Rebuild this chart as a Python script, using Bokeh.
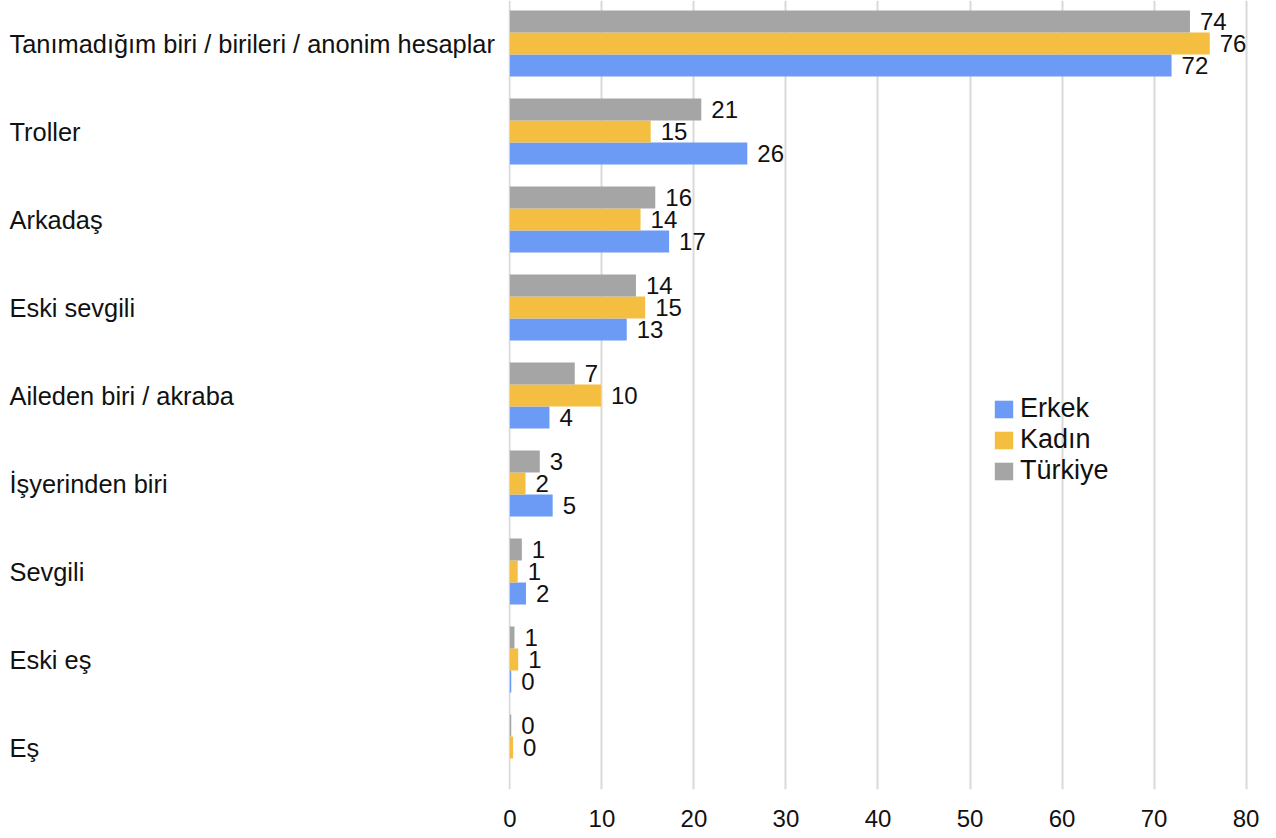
from bokeh.plotting import figure
from bokeh.layouts import row
from bokeh.models import ColumnDataSource, LabelSet, Legend, LegendItem, FixedTicker, Range1d
from bokeh.core.properties import value
from bokeh.embed import file_html
from bokeh.resources import INLINE

categories = ["Tanımadığım biri / birileri / anonim hesaplar", "Troller", "Arkadaş", "Eski sevgili",
              "Aileden biri / akraba", "İşyerinden biri", "Sevgili", "Eski eş", "Eş"]
erkek = [71.9, 25.8, 17.3, 12.7, 4.3, 4.65, 1.75, 0.15, 0.0]
kadin = [76.05, 15.3, 14.2, 14.7, 9.9, 1.7, 0.85, 0.9, 0.35]
turkiye = [73.9, 20.8, 15.8, 13.7, 7.05, 3.25, 1.3, 0.5, 0.15]
erkek_labels = ["72", "26", "17", "13", "4", "5", "2", "0", ""]
kadin_labels = ["76", "15", "14", "15", "10", "2", "1", "1", "0"]
turkiye_labels = ["74", "21", "16", "14", "7", "3", "1", "1", "0"]
series_names = ["Erkek", "Kadın", "Türkiye"]
x_ticks = [0, 10, 20, 30, 40, 50, 60, 70, 80]

colors = {"Erkek": "#6c9bf6", "Kadın": "#f4be41", "Türkiye": "#a5a5a5"}
offsets = {"Erkek": -0.25, "Kadın": 0.0, "Türkiye": 0.25}
FONT = "Liberation Sans"

n = len(categories)
centers = [n - i - 0.5 for i in range(n)]

y_range = Range1d(0.023, 8.989)
LEFT_W = 497

# left panel: category names
left = figure(width=LEFT_W, height=836, output_backend="svg", toolbar_location=None,
              x_range=Range1d(0, LEFT_W), y_range=y_range,
              x_axis_location=None, y_axis_location=None,
              min_border_left=0, min_border_right=0, min_border_top=0, min_border_bottom=47)
left.outline_line_color = None
left.xgrid.grid_line_color = None
left.ygrid.grid_line_color = None
cat_src = ColumnDataSource(dict(y=centers, cat=categories, x=[9] * n))
left.text(x="x", y="y", text="cat", source=cat_src, text_baseline="middle", text_align="left",
          text_font=value(FONT), text_font_size=value("25.4px"), text_color="#111111")

# main chart
p = figure(width=1268 - LEFT_W, height=836, output_backend="svg", toolbar_location=None,
           x_range=Range1d(-0.15, 82), y_range=y_range,
           y_axis_location=None, min_border_left=11, min_border_right=4,
           min_border_top=0, min_border_bottom=47)
p.outline_line_color = None
p.ygrid.grid_line_color = None
p.xgrid.grid_line_color = "#d9d9d9"
p.xgrid.grid_line_width = 2
p.xaxis.ticker = FixedTicker(ticks=x_ticks)
p.xaxis.axis_line_color = None
p.xaxis.major_tick_line_color = None
p.xaxis.minor_tick_line_color = None
p.xaxis.major_label_standoff = 14
p.xaxis.major_label_text_font = FONT
p.xaxis.major_label_text_font_size = "24px"
p.xaxis.major_label_text_color = "#111111"

items = {}
for name, vals, labs in [("Erkek", erkek, erkek_labels), ("Kadın", kadin, kadin_labels),
                         ("Türkiye", turkiye, turkiye_labels)]:
    src = ColumnDataSource(dict(y=[c + offsets[name] for c in centers], v=vals, lab=labs))
    r = p.hbar(y="y", right="v", left=0, height=0.25, source=src,
               fill_color=colors[name], line_color=None)
    items[name] = r
    p.add_layout(LabelSet(x="v", y="y", text="lab", source=src, x_offset=10,
                          text_baseline="middle", text_align="left",
                          text_font=value(FONT), text_font_size=value("24px"),
                          text_color="#111111"))

legend = Legend(items=[LegendItem(label=s, renderers=[items[s]]) for s in series_names],
                location=(484, 303), padding=0, margin=0, border_line_color=None,
                background_fill_alpha=0, label_text_font=FONT, label_text_font_size="27px",
                label_text_color="#111111", glyph_width=23, glyph_height=22,
                label_standoff=5, spacing=0)
p.add_layout(legend)

layout = row(left, p, spacing=0)
open("out.html", "w").write(file_html(layout, INLINE))
